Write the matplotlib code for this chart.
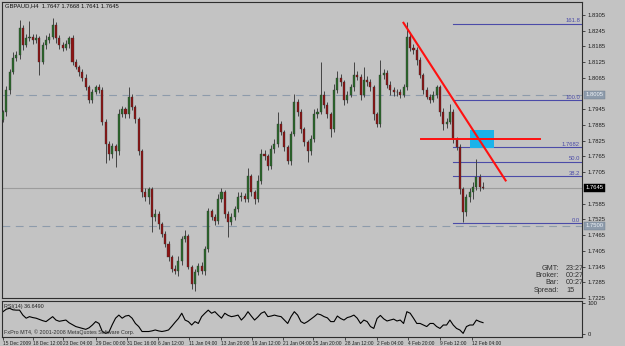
import numpy as np
import matplotlib
matplotlib.use("Agg")
import matplotlib.pyplot as plt

# ---------------- data ----------------
symbol_title = "GBPAUD,H4  1.7647 1.7668 1.7641 1.7645"
first_open = 1.7905
closes = [
    1.7933, 1.8020, 1.8088, 1.8142, 1.8153, 1.8256, 1.8191, 1.8218, 1.8221, 1.8210,
    1.8218, 1.8126, 1.8191, 1.8210, 1.8221, 1.8267, 1.8218, 1.8191, 1.8180, 1.8195,
    1.8218, 1.8126, 1.8107, 1.8088, 1.8066, 1.8028, 1.7982, 1.8012, 1.8028, 1.8020,
    1.7898, 1.7811, 1.7773, 1.7803, 1.7784, 1.7925, 1.7944, 1.7925, 1.7993, 1.7952,
    1.7906, 1.7784, 1.7629, 1.7610, 1.7640, 1.7534, 1.7545, 1.7507, 1.7469, 1.7431,
    1.7382, 1.7336, 1.7328, 1.7366, 1.7450, 1.7461, 1.7344, 1.7279, 1.7325, 1.7347,
    1.7328, 1.7412, 1.7556, 1.7534, 1.7518, 1.7602, 1.7629, 1.7545, 1.7515, 1.7534,
    1.7564, 1.7610, 1.7613, 1.7602, 1.7689, 1.7629, 1.7602, 1.7670, 1.7773, 1.7765,
    1.7727, 1.7792, 1.7811, 1.7887, 1.7857, 1.7800, 1.7746, 1.7849, 1.7974, 1.7933,
    1.7868, 1.7819, 1.7784, 1.7830, 1.7925, 1.7936, 1.8001, 1.7963, 1.7925, 1.7868,
    1.8020, 1.8066, 1.8047, 1.7982, 1.8001, 1.8028, 1.8077, 1.8069, 1.8001, 1.8058,
    1.8047, 1.8028, 1.7925, 1.7887, 1.8077, 1.8085, 1.8039, 1.8020, 1.8012, 1.8009,
    1.8001, 1.8028, 1.8221, 1.8180, 1.8172, 1.8134, 1.8077, 1.8020, 1.7993, 1.7982,
    1.8001, 1.8028, 1.7936, 1.7887, 1.7898, 1.7936, 1.7830, 1.7800, 1.7640, 1.7553,
    1.7610, 1.7629, 1.7648, 1.7686, 1.7647, 1.7645,
]
upper_wick_pips = [
    10, 15, 12, 20, 15, 30, 12, 15, 60, 10,
    15, 8, 10, 20, 15, 25, 10, 12, 10, 15,
    8, 12, 10, 8, 10, 15, 8, 12, 10, 15,
    8, 10, 12, 15, 10, 20, 15, 10, 35, 12,
    10, 8, 10, 15, 10, 8, 20, 12, 8, 10,
    10, 8, 15, 20, 12, 25, 10, 8, 12, 10,
    15, 10, 12, 8, 10, 20, 15, 8, 12, 15,
    10, 20, 15, 12, 30, 10, 8, 25, 20, 15,
    10, 15, 20, 46, 15, 10, 8, 12, 30, 10,
    12, 8, 10, 15, 20, 15, 125, 12, 10, 8,
    20, 25, 15, 10, 12, 15, 49, 12, 10, 49,
    12, 15, 10, 8, 57, 15, 10, 12, 8, 10,
    12, 15, 57, 20, 15, 10, 12, 8, 10, 12,
    15, 10, 8, 12, 15, 30, 10, 8, 12, 8,
    12, 15, 20, 68, 12, 21,
]
lower_wick_pips = [
    10, 12, 15, 10, 12, 15, 20, 10, 12, 15,
    12, 49, 10, 15, 12, 10, 20, 15, 12, 10,
    15, 12, 10, 15, 12, 10, 15, 12, 10, 12,
    15, 70, 20, 15, 60, 12, 10, 15, 12, 10,
    15, 12, 20, 15, 25, 58, 15, 20, 12, 10,
    15, 12, 10, 20, 15, 12, 10, 19, 27, 12,
    10, 15, 12, 10, 15, 12, 10, 15, 57, 12,
    10, 12, 15, 10, 12, 15, 20, 10, 12, 15,
    12, 10, 15, 10, 12, 15, 10, 12, 8, 15,
    12, 15, 41, 12, 10, 15, 10, 12, 15, 30,
    10, 12, 15, 20, 12, 10, 15, 12, 20, 10,
    15, 12, 20, 11, 10, 15, 12, 20, 15, 12,
    15, 10, 10, 12, 15, 20, 12, 15, 10, 12,
    10, 12, 15, 20, 12, 10, 15, 12, 20, 39,
    15, 20, 25, 12, 15, 4,
]
ind_title = "RSI(14) 36.6490"
ind_values = [
    72, 80, 83, 78, 77, 77, 61, 51, 56, 53, 51, 47, 43, 40, 48, 56, 45, 41, 43, 45,
    36, 30, 24, 21, 18, 15, 20, 29, 40, 34,
    8, 2, 6, 30, 51, 61, 51, 58, 60, 51, 34, 24, 8, 8, 8, 10, 13, 10, 8, 10,
    13, 25, 38, 50, 67, 45, 40, 29,
    40, 34, 56, 67, 77, 67, 72, 61, 51, 67, 60, 56, 58, 61, 45, 56, 72, 58, 45, 55,
    67, 72, 56, 58, 61, 58, 56, 45, 34,
    56, 72, 61, 40, 34, 40, 48, 56, 65, 62, 56, 52, 40, 40, 58, 50, 45, 53, 56, 61,
    51, 34, 45, 40, 24, 18, 50, 60, 49,
    42, 45, 48, 42, 45, 34, 72, 67, 51, 34, 34, 29, 24, 34, 34, 24, 18, 29, 29, 45,
    29, 18, 13, 2, 24, 29, 29, 45, 40, 36.6,
]

price_ticks = [1.8305, 1.8245, 1.8185, 1.8125, 1.8065, 1.7945, 1.7885,
               1.7825, 1.7765, 1.7705, 1.7585, 1.7525, 1.7465, 1.7405, 1.7345,
               1.7285, 1.7225]
date_tick_bars = [0, 9.1, 18.1, 28.1, 37.5, 46.8, 56.2, 65.9, 75.2, 84.6,
                  93.7, 103.3, 113.0, 122.4, 132.0, 141.7]
date_tick_labels = ["15 Dec 2009", "18 Dec 12:00", "23 Dec 04:00", "29 Dec 00:00",
                    "31 Dec 16:00", "6 Jan 12:00", "11 Jan 04:00", "13 Jan 20:00",
                    "19 Jan 12:00", "21 Jan 04:00", "25 Jan 20:00", "28 Jan 12:00",
                    "2 Feb 04:00", "4 Feb 20:00", "9 Feb 12:00", "12 Feb 04:00"]

bid_price = 1.7645
dashed_levels = [1.8000, 1.7500]
dashed_labels = ["1.8005", "1.7500"]

fib_low, fib_high = 1.7510, 1.7980
fib_start_bar = 136
fib_ratios = [0.0, 0.382, 0.5, 0.618, 1.0, 1.618]
fib_labels = ["0.0", "38.2", "50.0", "1.7682", "100.0", "161.8"]

trend_bars = [120.8, 152.0]
trend_prices = [1.8278, 1.7670]
hline_bars = [126.3, 162.2]
hline_price = 1.7830
box_bars = [141.1, 148.3]
box_prices = [1.7796, 1.7864]

info_names = ["GMT:", "Broker:", "Bar:", "Spread:"]
info_values = ["23:27", "00:27", "00:27", "15"]

# ---------------- figure ----------------
W, H = 625, 346
BG = "#c3c3c3"
plt.rcParams["font.family"] = ["Liberation Sans", "DejaVu Sans"]
fig = plt.figure(figsize=(W / 100, H / 100), dpi=100, facecolor=BG)

def fx(px):
    return px / W

def fy(py):
    return 1 - py / H

ax = fig.add_axes([fx(2), fy(298), fx(582) - fx(2), fy(2) - fy(298)], facecolor=BG)
axi = fig.add_axes([fx(2), fy(337), fx(582) - fx(2), fy(301) - fy(337)], facecolor=BG)

n = len(closes)
idx = np.arange(n)
c = np.array(closes)
o = np.array([first_open] + closes[:-1])
hi = np.maximum(o, c) + np.array(upper_wick_pips) * 1e-4
lo = np.minimum(o, c) - np.array(lower_wick_pips) * 1e-4

xmin, xmax = -0.3, 174.9
ymin, ymax = 1.7229, 1.8354

# reference lines
ax.axhline(bid_price, color="#9c9c9c", lw=0.8, zorder=1)
for lv in dashed_levels:
    ax.axhline(lv, color="#8d9bab", lw=0.8, ls=(0, (7, 5)), zorder=1)

# candles
ax.vlines(idx, lo, hi, color="#444444", lw=0.7, zorder=3)
bull = c >= o
body_col = np.where(bull, "#2a6a2a", "#8e1414")
height = np.where(np.abs(c - o) < 0.00025, 0.00025 * np.sign(c - o + 1e-9), c - o)
ax.bar(idx, height, bottom=o, width=0.62, color=body_col, edgecolor="#303030",
       linewidth=0.25, zorder=4)

# fibonacci
fib_col = "#4b4ba8"
for r, lab in zip(fib_ratios, fib_labels):
    lv = fib_low + r * (fib_high - fib_low)
    ax.plot([fib_start_bar, xmax], [lv, lv], color=fib_col, lw=0.8, zorder=2)
    ax.text(xmax - 0.6, lv + 0.0002, lab, color=fib_col, fontsize=4.2,
            ha="right", va="bottom", zorder=6)

# drawn objects
ax.fill_between(box_bars, box_prices[0], box_prices[1], color="#1bb3ea", zorder=5, lw=0)
ax.plot(trend_bars, trend_prices, color="#ff1010", lw=1.5, zorder=6, solid_capstyle="butt")
ax.plot(hline_bars, [hline_price, hline_price], color="#ff1010", lw=1.4, zorder=6)

ax.set_xlim(xmin, xmax)
ax.set_ylim(ymin, ymax)
ax.set_xticks([])
ax.yaxis.tick_right()
ax.set_yticks(price_ticks)
ax.set_yticklabels([f"{p:.4f}" for p in price_ticks])
ax.tick_params(axis="y", direction="out", length=2.5, width=0.6, color="#303030",
               labelsize=4.2, pad=1.5, labelcolor="#202020")

# price boxes on the scale
trans = ax.get_yaxis_transform()
ax.text(1.006, bid_price, f"{bid_price:.4f}", transform=trans, fontsize=4.2, color="white",
        ha="left", va="center", clip_on=False, zorder=10,
        bbox=dict(boxstyle="square,pad=0.25", fc="black", ec="black", lw=0.3))
for lv, lab in zip(dashed_levels, dashed_labels):
    ax.text(1.006, lv, lab, transform=trans, fontsize=4.2, color="#eef2f6",
            ha="left", va="center", clip_on=False, zorder=10,
            bbox=dict(boxstyle="square,pad=0.25", fc="#8d9bab", ec="#6f7d8c", lw=0.3))

for sp in ax.spines.values():
    sp.set_color("#2e2e2e")
    sp.set_linewidth(0.8)

# indicator
axi.plot(idx, ind_values, color="black", lw=0.8)
axi.set_xlim(xmin, xmax)
axi.set_ylim(-9.7, 106.5)
axi.yaxis.tick_right()
axi.set_yticks([0, 100])
axi.set_yticklabels(["0", "100"])
axi.tick_params(axis="y", direction="out", length=2.5, width=0.6, color="#303030",
                labelsize=4.2, pad=1.5, labelcolor="#202020")
axi.set_xticks(date_tick_bars)
axi.set_xticklabels(date_tick_labels, ha="left")
axi.tick_params(axis="x", direction="out", length=2, width=0.6, color="#303030",
                labelsize=3.5, pad=1.0, labelcolor="#202020")
for sp in axi.spines.values():
    sp.set_color("#2e2e2e")
    sp.set_linewidth(0.8)
axi.text(0.004, 0.93, ind_title, transform=axi.transAxes, fontsize=3.9,
         color="#202020", ha="left", va="top")
axi.text(0.004, 0.06, "FxPro MT4, \u00a9 2001-2008 MetaQuotes Software Corp.",
         transform=axi.transAxes, fontsize=3.9, color="#303030", ha="left", va="bottom")

# header and info texts
fig.text(fx(5), fy(6), symbol_title, fontsize=4.2, color="#101010", ha="left", va="center")
for k, (nm, val) in enumerate(zip(info_names, info_values)):
    yy = fy(268 + k * 7.4)
    fig.text(fx(559), yy, nm, fontsize=5.2, color="#303030", ha="right", va="center")
    fig.text(fx(566), yy, val, fontsize=5.2, color="#303030", ha="left", va="center")

fig.savefig("out.png", dpi=100, facecolor=BG)
